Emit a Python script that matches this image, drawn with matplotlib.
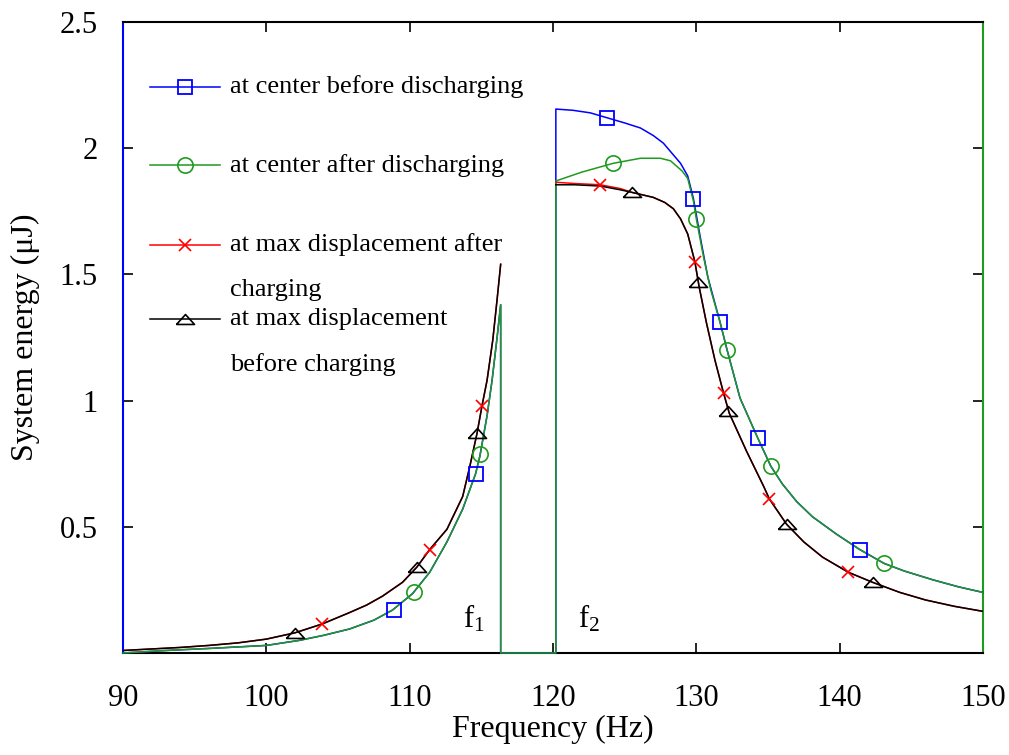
import numpy as np
import matplotlib
matplotlib.use('Agg')
import matplotlib.pyplot as plt

plt.rcParams['font.family'] = ['Liberation Serif', 'DejaVu Serif']
plt.rcParams['mathtext.fontset'] = 'custom'
plt.rcParams['mathtext.rm'] = 'Liberation Serif'

BLUE = '#0000ff'
GREEN = '#1f9a1f'
RED = '#ff0000'
BLACK = '#000000'

# at center before discharging (blue)
blue_f = [90, 93, 96, 100, 102.3, 104, 105.8, 107.5, 108.8, 110.2, 111.4, 112.6, 113.7, 114.6,
          114.9, 115.4, 115.75, 116.1, 116.35, 116.35, 120.2,
          120.2, 121.4, 122.6, 123.8, 125, 126.1, 127, 127.7, 128.3, 128.9, 129.4, 129.8, 130.3,
          130.8, 131.66, 132.15, 133.05, 134.3, 135.2, 136, 137, 138.1, 139.8, 141.4, 143.1, 144.5,
          146.5, 148.3, 150]
blue_e = [0.0, 0.01, 0.018, 0.03, 0.05, 0.07, 0.095, 0.13, 0.17, 0.235, 0.32, 0.44, 0.57, 0.71,
          0.78, 0.94, 1.08, 1.25, 1.38, 0.0, 0.0,
          2.155, 2.15, 2.14, 2.12, 2.10, 2.08, 2.05, 2.02, 1.98, 1.94, 1.89, 1.80, 1.64,
          1.49, 1.31, 1.20, 1.01, 0.85, 0.74, 0.67, 0.60, 0.54, 0.47, 0.41, 0.355, 0.325,
          0.29, 0.262, 0.24]

# at center after discharging (green)
green_f = [90, 93, 96, 100, 102.3, 104, 105.8, 107.5, 108.8, 110.2, 111.4, 112.6, 113.7, 114.6,
           114.9, 115.4, 115.75, 116.1, 116.35, 116.35, 120.2,
           120.2, 122, 124.2, 126.1, 127.5, 128.2, 129.0, 129.4, 129.8, 130.0, 130.5, 131.0, 131.66,
           132.15, 133.05, 134.3, 135.2, 136, 137, 138.1, 139.8, 141.4, 143.1, 144.5, 146.5, 148.3, 150]
green_e = [0.0, 0.01, 0.018, 0.03, 0.05, 0.07, 0.095, 0.13, 0.17, 0.235, 0.32, 0.44, 0.57, 0.71,
           0.78, 0.94, 1.08, 1.25, 1.38, 0.0, 0.0,
           1.87, 1.905, 1.94, 1.96, 1.96, 1.95, 1.91, 1.88, 1.79, 1.72, 1.57, 1.44, 1.31,
           1.20, 1.01, 0.85, 0.74, 0.67, 0.60, 0.54, 0.47, 0.41, 0.355, 0.325, 0.29, 0.262, 0.24]

# at max displacement after charging (red)
red_f = [90, 92, 94, 96, 98, 100, 102, 103.9, 105.8, 107, 108.1, 109.5, 110.5, 111.4, 112.6, 113.7,
         114.2, 114.7, 115.05, 115.4, 115.8, 116.1, 116.35, np.nan,
         120.2, 121.5, 123.3, 124.7, 125.5, 127, 127.8, 128.4, 128.9, 129.4, 129.9, 130.2, 130.7,
         131.3, 131.9, 132.3, 133.5, 134.7, 135.1, 136.3, 137.5, 138.8, 140.6, 142.3, 144.2, 146,
         148, 150]
red_e = [0.01, 0.016, 0.022, 0.03, 0.04, 0.055, 0.08, 0.115, 0.16, 0.19, 0.225, 0.28, 0.34, 0.41,
         0.49, 0.62, 0.74, 0.87, 0.98, 1.08, 1.24, 1.40, 1.54, np.nan,
         1.865, 1.86, 1.855, 1.84, 1.825, 1.805, 1.785, 1.76, 1.72, 1.66, 1.55, 1.45, 1.31,
         1.16, 1.03, 0.95, 0.80, 0.66, 0.61, 0.51, 0.44, 0.38, 0.32, 0.28, 0.24, 0.21,
         0.185, 0.165]

# at max displacement before charging (black)
black_f = red_f
black_e = [0.01, 0.016, 0.022, 0.03, 0.04, 0.055, 0.08, 0.115, 0.16, 0.19, 0.225, 0.28, 0.34, 0.41,
           0.49, 0.62, 0.74, 0.87, 0.98, 1.08, 1.24, 1.40, 1.54, np.nan,
           1.855, 1.855, 1.85, 1.835, 1.825, 1.805, 1.785, 1.76, 1.72, 1.66, 1.55, 1.45, 1.31,
           1.16, 1.03, 0.95, 0.80, 0.66, 0.61, 0.51, 0.44, 0.38, 0.32, 0.28, 0.24, 0.21,
           0.185, 0.165]

# marker positions
blue_mk_f = [108.9, 114.63, 123.8, 129.8, 131.66, 134.3, 141.4]
blue_mk_e = [0.17, 0.71, 2.12, 1.80, 1.31, 0.85, 0.41]
green_mk_f = [110.3, 114.9, 124.2, 130.0, 132.15, 135.2, 143.1]
green_mk_e = [0.24, 0.79, 1.94, 1.72, 1.20, 0.74, 0.355]
red_mk_f = [103.9, 111.4, 115.05, 123.3, 129.9, 131.9, 135.1, 140.6]
red_mk_e = [0.115, 0.41, 0.98, 1.855, 1.55, 1.03, 0.61, 0.32]
black_mk_f = [102.0, 110.5, 114.7, 125.5, 130.1, 132.2, 136.3, 142.3]
black_mk_e = [0.08, 0.34, 0.87, 1.825, 1.47, 0.96, 0.51, 0.28]

x_ticks = [90, 100, 110, 120, 130, 140, 150]
y_ticks = [0.5, 1, 1.5, 2, 2.5]
y_tick_labels = ['0.5', '1', '1.5', '2', '2.5']

labels = ['at center before discharging', 'at center after discharging',
          'at max displacement after', 'at max displacement']
label_cont = ['', '', 'charging', 'before charging']

# flattened triangle like the original
TRI = [(-1, -0.55), (1, -0.55), (0, 0.55), (-1, -0.55)]

fig = plt.figure(figsize=(10.09, 7.55), dpi=100)
ax = fig.add_axes([0.1219, 0.1351, 0.8523, 0.8358])

lw = 1.1
ax.plot(blue_f, blue_e, color=BLUE, lw=lw, zorder=3, clip_on=False)
ax.plot(green_f, green_e, color=GREEN, lw=lw, zorder=3.1, clip_on=False)
ax.plot(red_f, red_e, color=RED, lw=lw, zorder=3.2)
ax.plot(black_f, black_e, color=BLACK, lw=lw, zorder=3.3)

ax.plot(blue_mk_f, blue_mk_e, ls='none', marker='s', ms=10, mfc='none', mec=BLUE, mew=1.3, zorder=4)
ax.plot(green_mk_f, green_mk_e, ls='none', marker='o', ms=11, mfc='none', mec=GREEN, mew=1.2, zorder=4)
ax.plot(red_mk_f, red_mk_e, ls='none', marker='x', ms=9, mec=RED, mew=1.2, zorder=4)
ax.plot(black_mk_f, black_mk_e, ls='none', marker=TRI, ms=13, mfc='none', mec=BLACK, mew=1.2, zorder=4)

ax.set_xlim(90, 150)
ax.set_ylim(0, 2.5)
ax.set_xticks(x_ticks)
ax.set_yticks(y_ticks)
ax.set_yticklabels(y_tick_labels)
ax.tick_params(direction='in', top=True, right=True, length=7, width=1.2, labelsize=22)
ax.tick_params(axis='x', pad=22)
ax.tick_params(axis='y', pad=18)

for t in ax.yaxis.get_major_ticks():
    t.tick1line.set_color(BLUE)
    t.tick2line.set_color(GREEN)

for side in ['top', 'bottom', 'left', 'right']:
    ax.spines[side].set_linewidth(1.5)
ax.spines['left'].set_color(BLUE)
ax.spines['right'].set_color(GREEN)

ax.set_xlabel('Frequency (Hz)', fontsize=23, labelpad=2)
ax.set_ylabel('System energy (\u03bcJ)', fontsize=23, labelpad=14)

ax.text(113.7, 0.1, r'$\mathregular{f_1}$', fontsize=22)
ax.text(121.75, 0.1, r'$\mathregular{f_2}$', fontsize=22)

# hand-placed legend, as in the original
leg_y = [0.897, 0.773, 0.647, 0.529]
leg_mk = [dict(marker='s', ms=10, mfc='none', mec=BLUE, mew=1.3, color=BLUE),
          dict(marker='o', ms=11, mfc='none', mec=GREEN, mew=1.2, color=GREEN),
          dict(marker='x', ms=9, mec=RED, mew=1.2, color=RED),
          dict(marker=TRI, ms=13, mfc='none', mec=BLACK, mew=1.2, color=BLACK)]
for y, lab, cont, kw in zip(leg_y, labels, label_cont, leg_mk):
    ax.plot([0.0314, 0.1128], [y, y], transform=ax.transAxes, lw=lw, markevery=[], **kw)
    ax.plot([0.0721], [y], transform=ax.transAxes, ls='none', **kw)
    ax.text(0.1244, y, lab, transform=ax.transAxes, fontsize=19, va='center')
    if cont:
        ax.text(0.1244, y - 0.072, cont, transform=ax.transAxes, fontsize=19, va='center')

fig.savefig('out.png', dpi=100)
